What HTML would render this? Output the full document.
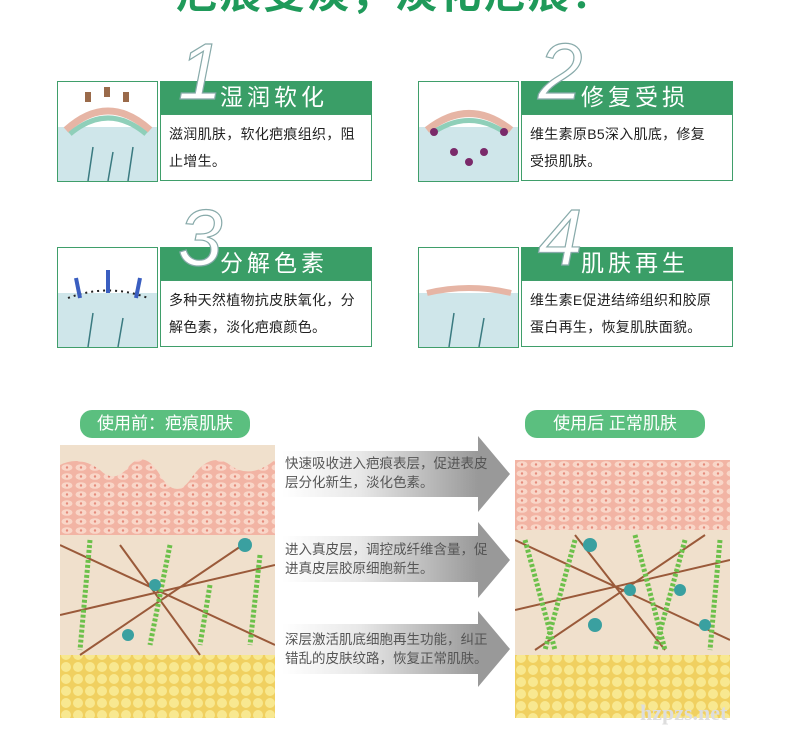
<!DOCTYPE html>
<html><head><meta charset="utf-8"><style>
body{margin:0;width:790px;height:734px;background:#fff;position:relative;overflow:hidden;font-family:"Liberation Sans","Noto Sans CJK SC",sans-serif}
.a{position:absolute}
.title{left:0;width:790px;top:-40px;text-align:center;font-size:42px;font-weight:bold;color:#1f9a5a;letter-spacing:2px}
.img{border:1px solid #3f9e6a;background:#fff;overflow:hidden}
.hd{background:#3a9e67;color:#fff;font-size:23px;letter-spacing:4px;height:33px;line-height:33px;box-sizing:border-box;padding-left:60px}
.tx{border:1px solid #3f9e6a;font-size:14px;line-height:27px;color:#222;padding:6px 4px 6px 8px;box-sizing:border-box;letter-spacing:0.3px;white-space:nowrap}
.num{font-size:80px;font-style:italic;color:#fff;-webkit-text-stroke:1.2px #8aa;line-height:80px;font-family:"Liberation Sans",sans-serif}
.pill{background:#5bbf7f;color:#fff;font-size:17px;border-radius:12px;height:28px;line-height:28px;text-align:center}
.arr{width:228px}
.arr .body{position:absolute;left:0;width:196px;background:linear-gradient(90deg,#fff,#e8e8e8 40%,#999);}
.arr .head{position:absolute;left:196px;width:0;height:0;border-left:32px solid #999;border-top:38px solid transparent;border-bottom:38px solid transparent}
.arr .t{position:absolute;left:3px;font-size:13.5px;line-height:19px;color:#555;width:210px}
</style></head><body>
<div class="a title">疤痕变淡，淡化疤痕！</div>

<svg width="0" height="0" style="position:absolute"><defs>
<pattern id="cells" width="14" height="9" patternUnits="userSpaceOnUse"><rect width="14" height="9" fill="#f2b4a4"/><ellipse cx="7" cy="4.5" rx="5.5" ry="3.3" fill="#f9d6c8"/><circle cx="7" cy="4.5" r="1.2" fill="#e58a7a"/></pattern>
<pattern id="fat" width="12" height="12" patternUnits="userSpaceOnUse"><rect width="12" height="12" fill="#f0d060"/><circle cx="6" cy="6" r="5" fill="#f8e890"/></pattern>
</defs></svg>

<div class="a img" style="left:57px;top:81px;width:99px;height:99px">
<svg width="99" height="99"><rect y="45" width="99" height="54" fill="#cfe6ea"/><path d="M8 48 Q50 10 92 48" stroke="#e6b5a5" stroke-width="7" fill="none"/><path d="M12 52 Q50 20 88 52" stroke="#8fcfb9" stroke-width="5" fill="none"/><path d="M30 99 L35 65 M50 99 L55 70 M70 99 L75 65" stroke="#3a7a80" stroke-width="1.5"/><g fill="#9a6a4a"><rect x="27" y="10" width="6" height="10"/><rect x="46" y="5" width="6" height="10"/><rect x="65" y="10" width="6" height="10"/></g></svg></div>
<div class="a hd" style="left:160px;top:81px;width:212px">湿润软化</div>
<div class="a tx" style="left:160px;top:114px;width:212px;height:67px">滋润肌肤，软化疤痕组织，阻<br>止增生。</div>
<div class="a num" style="left:178px;top:32px">1</div>

<div class="a img" style="left:418px;top:81px;width:99px;height:99px">
<svg width="99" height="99"><rect y="45" width="99" height="54" fill="#cfe6ea"/><path d="M8 48 Q50 15 92 48" stroke="#e6b5a5" stroke-width="7" fill="none"/><path d="M12 52 Q50 25 88 52" stroke="#8fcfb9" stroke-width="5" fill="none"/><g fill="#7a2a6a"><circle cx="15" cy="50" r="4"/><circle cx="85" cy="50" r="4"/><circle cx="35" cy="70" r="4"/><circle cx="65" cy="70" r="4"/><circle cx="50" cy="80" r="4"/></g></svg></div>
<div class="a hd" style="left:521px;top:81px;width:212px">修复受损</div>
<div class="a tx" style="left:521px;top:114px;width:212px;height:67px">维生素原B5深入肌底，修复<br>受损肌肤。</div>
<div class="a num" style="left:538px;top:32px">2</div>

<div class="a img" style="left:57px;top:247px;width:99px;height:99px">
<svg width="99" height="99"><rect y="45" width="99" height="54" fill="#cfe6ea"/><path d="M10 50 Q50 35 90 50" stroke="#222" stroke-width="2" stroke-dasharray="2 4" fill="none"/><g stroke="#3a5ec0" stroke-width="4"><path d="M22 50 L18 30"/><path d="M50 45 L50 22"/><path d="M78 50 L82 30"/></g><path d="M30 99 L35 65 M60 99 L65 70" stroke="#3a7a80" stroke-width="1.5"/></svg></div>
<div class="a hd" style="left:160px;top:247px;width:212px">分解色素</div>
<div class="a tx" style="left:160px;top:280px;width:212px;height:67px">多种天然植物抗皮肤氧化，分<br>解色素，淡化疤痕颜色。</div>
<div class="a num" style="left:178px;top:198px">3</div>

<div class="a img" style="left:418px;top:247px;width:99px;height:99px">
<svg width="99" height="99"><rect y="45" width="99" height="54" fill="#cfe6ea"/><path d="M8 45 Q50 35 92 45" stroke="#e6b5a5" stroke-width="6" fill="none"/><path d="M30 99 L35 65 M60 99 L65 70" stroke="#3a7a80" stroke-width="1.5"/></svg></div>
<div class="a hd" style="left:521px;top:247px;width:212px">肌肤再生</div>
<div class="a tx" style="left:521px;top:280px;width:212px;height:67px">维生素E促进结缔组织和胶原<br>蛋白再生，恢复肌肤面貌。</div>
<div class="a num" style="left:538px;top:198px">4</div>

<div class="a pill" style="left:80px;top:410px;width:170px">使用前：疤痕肌肤</div>
<div class="a pill" style="left:525px;top:410px;width:180px">使用后 正常肌肤</div>

<div class="a" style="left:60px;top:445px;width:215px;height:273px;overflow:hidden">
<svg width="215" height="273"><rect width="215" height="273" fill="#f0e0cc"/>
<path d="M0 20 Q20 10 40 25 Q55 40 70 20 Q85 5 100 30 Q115 55 130 35 Q150 5 170 20 Q190 35 215 15 L215 90 L0 90Z" fill="url(#cells)"/>
<rect y="210" width="215" height="63" fill="url(#fat)"/>
<g stroke="#9a5a3a" stroke-width="2"><path d="M0 100 L215 200"/><path d="M20 210 L190 95"/><path d="M60 100 L140 210"/><path d="M0 170 L215 120"/></g>
<g stroke="#6cc04a" stroke-width="5" stroke-dasharray="3 2"><path d="M30 95 L20 205"/><path d="M110 100 L90 200"/><path d="M200 110 L190 200"/><path d="M150 140 L140 200"/></g>
<g fill="#3aa0a0"><circle cx="185" cy="100" r="7"/><circle cx="95" cy="140" r="6"/><circle cx="68" cy="190" r="6"/></g></svg></div>

<div class="a" style="left:515px;top:460px;width:215px;height:258px;overflow:hidden">
<svg width="215" height="258"><rect width="215" height="258" fill="#f0e0cc"/>
<rect width="215" height="70" fill="url(#cells)"/>
<rect y="195" width="215" height="63" fill="url(#fat)"/>
<g stroke="#9a5a3a" stroke-width="2"><path d="M0 80 L215 180"/><path d="M20 190 L190 75"/><path d="M60 75 L150 190"/><path d="M0 150 L215 100"/></g>
<g stroke="#6cc04a" stroke-width="5" stroke-dasharray="3 2"><path d="M10 80 L40 190"/><path d="M60 80 L30 190"/><path d="M120 75 L150 190"/><path d="M170 80 L140 190"/><path d="M205 80 L195 190"/></g>
<g fill="#3aa0a0"><circle cx="75" cy="85" r="7"/><circle cx="115" cy="130" r="6"/><circle cx="165" cy="130" r="6"/><circle cx="80" cy="165" r="7"/><circle cx="190" cy="165" r="6"/></g></svg></div>

<div class="a arr" style="left:282px;top:433px;height:80px"><div class="body" style="top:18px;height:46px"></div><div class="head" style="top:3px"></div><div class="t" style="top:21px">快速吸收进入疤痕表层，促进表皮<br>层分化新生，淡化色素。</div></div>
<div class="a arr" style="left:282px;top:520px;height:80px"><div class="body" style="top:16px;height:46px"></div><div class="head" style="top:2px"></div><div class="t" style="top:20px">进入真皮层，调控成纤维含量，促<br>进真皮层胶原细胞新生。</div></div>
<div class="a arr" style="left:282px;top:615px;height:80px"><div class="body" style="top:9px;height:50px"></div><div class="head" style="top:-4px"></div><div class="t" style="top:15px">深层激活肌底细胞再生功能，纠正<br>错乱的皮肤纹路，恢复正常肌肤。</div></div>

<div class="a" style="left:640px;top:700px;font-size:22px;font-family:'Liberation Serif',serif;color:#ddd;font-weight:bold">hzpzs.net</div>
</body></html>
